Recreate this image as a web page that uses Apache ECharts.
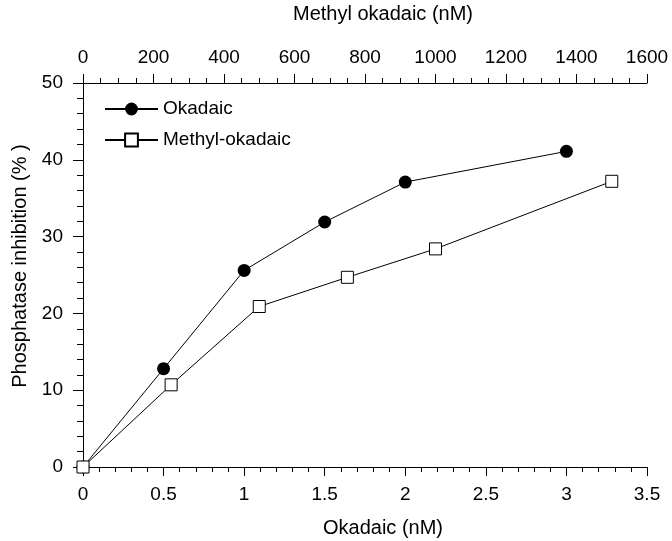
<!DOCTYPE html>
<html>
<head>
<meta charset="utf-8">
<script src="https://cdn.jsdelivr.net/npm/echarts@6/dist/echarts.min.js"></script>
<style>html,body{margin:0;padding:0;background:#fff}#c{width:672px;height:541px}</style>
</head>
<body>
<div id="c"></div>
<script>
// Okadaic: bottom axis (nM)
var okadaicX = [0, 0.5, 1, 1.5, 2, 3];
var okadaicY = [0, 12.8, 25.6, 31.9, 37.1, 41.1];
// Methyl-okadaic: top axis (nM)
var methylX = [0, 250, 500, 750, 1000, 1500];
var methylY = [0, 10.7, 20.9, 24.7, 28.4, 37.2];
var seriesNames = ['Okadaic', 'Methyl-okadaic'];
var bottomTitle = 'Okadaic (nM)';
var topTitle = 'Methyl okadaic (nM)';
var leftTitle = 'Phosphatase inhibition (% )';

function pairs(xs, ys) { return xs.map(function (x, i) { return [x, ys[i]]; }); }
function plain(v) { return String(v); }

var FONT = '"Liberation Sans", Arial, sans-serif';
var black = '#000';
var chart = echarts.init(document.getElementById('c'), null, { renderer: 'canvas' });
chart.setOption({
  animation: false,
  backgroundColor: '#fff',
  textStyle: { fontFamily: FONT, color: black },
  grid: { left: 83, right: 25, top: 83, bottom: 74, containLabel: false, outerBoundsMode: 'none' },
  legend: {
    orient: 'vertical', left: 104, top: 99, padding: 0,
    itemWidth: 53, itemHeight: 16, itemGap: 11,
    textStyle: { fontFamily: FONT, fontSize: 19, color: black, lineHeight: 20 },
    data: seriesNames
  },
  xAxis: [
    {
      type: 'value', position: 'bottom', min: 0, max: 3.5, interval: 0.5,
      name: bottomTitle, nameLocation: 'middle', nameGap: 51,
      nameTextStyle: { fontFamily: FONT, fontSize: 20, color: black, padding: [0, 0, 0, 36] },
      axisLine: { onZero: false, lineStyle: { color: black, width: 1 } },
      axisTick: { show: true, length: 9, inside: false, lineStyle: { color: black } },
      minorTick: { show: true, splitNumber: 5, length: 5, lineStyle: { color: black } },
      splitLine: { show: false },
      axisLabel: { fontFamily: FONT, fontSize: 19, color: black, margin: 18, formatter: plain }
    },
    {
      type: 'value', position: 'top', min: 0, max: 1600, interval: 200,
      name: topTitle, nameLocation: 'middle', nameGap: 59,
      nameTextStyle: { fontFamily: FONT, fontSize: 20, color: black, padding: [0, 0, 0, 36] },
      axisLine: { onZero: false, lineStyle: { color: black, width: 1 } },
      axisTick: { show: true, length: 9, inside: false, lineStyle: { color: black } },
      minorTick: { show: true, splitNumber: 4, length: 5, lineStyle: { color: black } },
      splitLine: { show: false },
      axisLabel: { fontFamily: FONT, fontSize: 19, color: black, margin: 16, formatter: plain }
    }
  ],
  yAxis: [{
    type: 'value', min: 0, max: 50, interval: 10,
    name: leftTitle, nameLocation: 'middle', nameGap: 53, nameRotate: 90,
    nameTextStyle: { fontFamily: FONT, fontSize: 20, color: black, padding: [0, 0, 0, 18] },
    axisLine: { show: true, onZero: false, lineStyle: { color: black, width: 1 } },
    axisTick: { show: true, length: 10, inside: false, lineStyle: { color: black } },
    minorTick: { show: true, splitNumber: 5, length: 6, lineStyle: { color: black } },
    splitLine: { show: false },
    axisLabel: { fontFamily: FONT, fontSize: 19, color: black, margin: 20, formatter: plain }
  }],
  series: [
    {
      name: seriesNames[0], type: 'line', xAxisIndex: 0, yAxisIndex: 0,
      data: pairs(okadaicX, okadaicY), clip: false,
      symbol: 'circle', symbolSize: 13,
      lineStyle: { color: black, width: 1 },
      itemStyle: { color: black, borderColor: black, borderWidth: 0 },
      z: 2
    },
    {
      name: seriesNames[1], type: 'line', xAxisIndex: 1, yAxisIndex: 0,
      data: pairs(methylX, methylY), clip: false,
      symbol: 'rect', symbolSize: 12,
      lineStyle: { color: black, width: 1 },
      itemStyle: { color: '#fff', borderColor: black, borderWidth: 1 },
      z: 3
    }
  ]
});
</script>
</body>
</html>
